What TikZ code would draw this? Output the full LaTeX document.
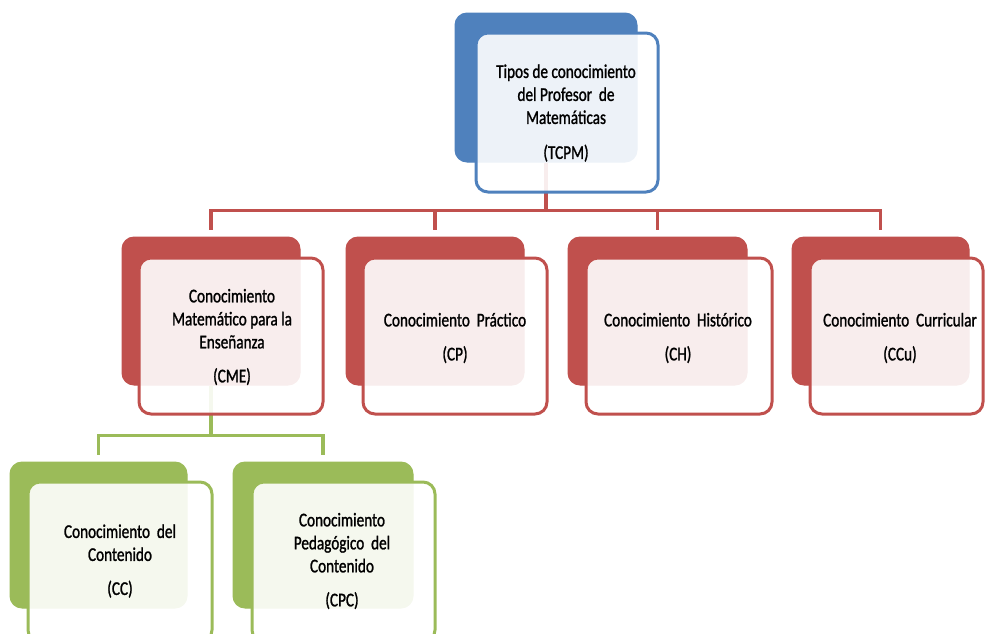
\documentclass[tikz,border=0pt]{standalone}
\usepackage{fontspec}
\setmainfont[FakeStretch=0.78,FakeBold=1.2]{Carlito}
\usetikzlibrary{fit}
\definecolor{accBlue}{HTML}{4F81BD}
\definecolor{accRed}{HTML}{C0504D}
\definecolor{accGreen}{HTML}{9BBB59}
\begin{document}
\begin{tikzpicture}[x=1pt,y=-1pt,
  backbox/.style={draw=#1, fill=#1, line width=1pt, rounded corners=12pt, inner sep=0pt},
  frontbox/.style={draw=#1, fill=white, fill opacity=0.9, line width=3pt, rounded corners=12pt, inner sep=0pt},
  label text/.style={align=center, text=black, inner sep=0pt,
    font=\fontsize{19.5}{23}\selectfont},
  link/.style={draw=#1, line width=3.5pt}]
\useasboundingbox (0,0) rectangle (985,633);
\clip (0,0) rectangle (985,633);

% back panels
\node[backbox=accBlue, fit={(455,13) (637,162)}] (tcpmB) {};
\node[backbox=accRed, fit={(122,237) (300,385)}] (cmeB) {};
\node[backbox=accRed, fit={(346,237) (524,385)}] (cpB) {};
\node[backbox=accRed, fit={(568,237) (747,385)}] (chB) {};
\node[backbox=accRed, fit={(792,237) (969,385)}] (ccuB) {};
\node[backbox=accGreen, fit={(10,462) (187,608)}] (ccB) {};
\node[backbox=accGreen, fit={(233,462) (413,608)}] (cpcB) {};

% connectors
\foreach \child in {cmeB,cpB,chB,ccuB}
  \draw[link=accRed] (tcpmB.south) -- ++(0,48) -| ([yshift=7pt]\child.north);
\foreach \child in {ccB,cpcB}
  \draw[link=accGreen] (cmeB.south) -- ++(0,50) -| ([yshift=7pt]\child.north);

% front panels
\node[frontbox=accBlue, fit={(476,33) (658,192)}] (tcpmF) {};
\node[frontbox=accRed, fit={(139,258) (323,414)}] (cmeF) {};
\node[frontbox=accRed, fit={(363,258) (547,414)}] (cpF) {};
\node[frontbox=accRed, fit={(586,258) (772,414)}] (chF) {};
\node[frontbox=accRed, fit={(810,258) (983,414)}] (ccuF) {};
\node[frontbox=accGreen, fit={(28,482) (212,642)}] (ccF) {};
\node[frontbox=accGreen, fit={(252,482) (435,642)}] (cpcF) {};

% labels
\node[label text] (tcpmT) at (566,113) {Tipos de conocimiento\\del Profesor\ \ de\\Matemáticas\\[12pt](TCPM)};
\node[label text] (cmeT) at (232,337) {Conocimiento\\Matemático para la\\Enseñanza\\[11pt](CME)};
\node[label text] (cpT) at (455,338) {Conocimiento\ \ Práctico\\[11pt](CP)};
\node[label text] (chT) at (678,338) {Conocimiento\ \ Histórico\\[11pt](CH)};
\node[label text] (ccuT) at (900,338) {Conocimiento\ \ Curricular\\[11pt](CCu)};
\node[label text] (ccT) at (120,561) {Conocimiento\ \ del\\Contenido\\[11pt](CC)};
\node[label text] (cpcT) at (342,561) {Conocimiento\\Pedagógico\ \ del\\Contenido\\[11pt](CPC)};
\end{tikzpicture}
\end{document}
